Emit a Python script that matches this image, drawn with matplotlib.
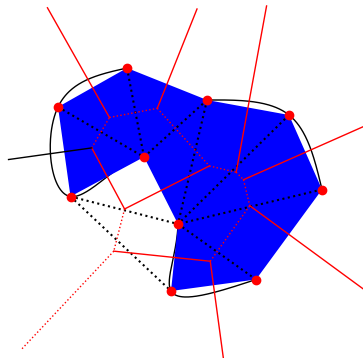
import numpy as np
import matplotlib
matplotlib.use("Agg")
import matplotlib.pyplot as plt
from matplotlib.patches import Polygon

# Sites (screen-like coordinates, y grows downward)
site_x = [127, 58, 144, 207, 289, 322, 70.5, 178, 256, 171]
site_y = [68, 107, 157, 100, 115, 189.5, 196.5, 224, 279.5, 291]

# Order in which the sites form the filled polygon
polygon_order = [1, 0, 3, 4, 5, 8, 9, 7, 2, 6]

# Site chains threaded by the smooth black curves
curve_chains = [[0, 1, 6, 2, 7, 9, 8], [3, 4, 5]]

# Triangulation of the sites
triangles = [
    (1, 2, 6), (2, 6, 7), (6, 7, 9), (7, 8, 9), (0, 1, 2),
    (0, 2, 3), (2, 3, 7), (3, 4, 7), (4, 5, 7), (5, 7, 8),
]

# Unbounded Voronoi edges: boundary edge -> (length of the drawn ray, colour)
ray_specs = {
    (0, 1): (126, "red"),
    (1, 6): (84, "black"),
    (6, 9): (136, "red"),
    (8, 9): (400, "red"),
    (5, 8): (400, "red"),
    (4, 5): (400, "red"),
    (3, 4): (169, "red"),
    (0, 3): (107, "red"),
}

pts = np.column_stack([site_x, site_y]).astype(float)
n = len(pts)


def circumcenter(a, b, c):
    d = 2 * (a[0] * (b[1] - c[1]) + b[0] * (c[1] - a[1]) + c[0] * (a[1] - b[1]))
    sa, sb, sc = a @ a, b @ b, c @ c
    ux = (sa * (b[1] - c[1]) + sb * (c[1] - a[1]) + sc * (a[1] - b[1])) / d
    uy = (sa * (c[0] - b[0]) + sb * (a[0] - c[0]) + sc * (b[0] - a[0])) / d
    return np.array([ux, uy])


def natural_spline(p, samples=80):
    """Interpolating natural cubic spline, chord-length parameter."""
    m = len(p)
    h = np.hypot(*np.diff(p, axis=0).T)
    A = np.zeros((m, m))
    rhs = np.zeros((m, 2))
    A[0, 0] = A[-1, -1] = 1
    for i in range(1, m - 1):
        A[i, i - 1] = h[i - 1]
        A[i, i] = 2 * (h[i - 1] + h[i])
        A[i, i + 1] = h[i]
        rhs[i] = 6 * ((p[i + 1] - p[i]) / h[i] - (p[i] - p[i - 1]) / h[i - 1])
    M = np.linalg.solve(A, rhs)
    out = []
    for i in range(m - 1):
        hi = h[i]
        s = np.linspace(0, hi, samples, endpoint=False)[:, None]
        y0, y1 = p[i], p[i + 1]
        m0, m1 = M[i], M[i + 1]
        out.append(m0 * (hi - s) ** 3 / (6 * hi) + m1 * s ** 3 / (6 * hi)
                   + (y0 / hi - m0 * hi / 6) * (hi - s) + (y1 / hi - m1 * hi / 6) * s)
    out.append(p[-1:])
    return np.vstack(out)


centers = [circumcenter(*pts[list(t)]) for t in triangles]

edge_tris = {}
for t, (i, j, k) in enumerate(triangles):
    for e in ((i, j), (j, k), (i, k)):
        edge_tris.setdefault(tuple(sorted(e)), []).append((t, ({i, j, k} - set(e)).pop()))

poly_edges = {tuple(sorted((polygon_order[m], polygon_order[(m + 1) % n]))) for m in range(n)}

fig = plt.figure(figsize=(3.63, 3.58), dpi=100)
ax = fig.add_axes([0, 0, 1, 1])
ax.set_xlim(0, 363)
ax.set_ylim(358, 0)
ax.axis("off")

# Smooth curves through the site chains (under the fill)
for chain in curve_chains:
    c = natural_spline(pts[chain])
    ax.plot(c[:, 0], c[:, 1], color="black", lw=1.0, zorder=1)

# Filled polygon
ax.add_patch(Polygon(pts[polygon_order], closed=True, facecolor="blue",
                     edgecolor="none", zorder=2))

# Triangulation edges that are not polygon sides
for (i, j) in edge_tris:
    if (i, j) in poly_edges:
        continue
    ax.plot(pts[[i, j], 0], pts[[i, j], 1], color="black", ls=":", lw=1.5, zorder=3)

# Voronoi edges, dual to the triangulation edges
for (i, j), adj in edge_tris.items():
    style = "-" if (i, j) in poly_edges else ":"
    if len(adj) == 2:
        a, b = centers[adj[0][0]], centers[adj[1][0]]
        ax.plot([a[0], b[0]], [a[1], b[1]], color="red", ls=style, lw=1.0, zorder=4)
    else:
        t, opp = adj[0]
        c = centers[t]
        e = pts[j] - pts[i]
        nrm = np.array([-e[1], e[0]]) / np.hypot(*e)
        if nrm @ (pts[opp] - pts[i]) > 0:
            nrm = -nrm
        length, colour = ray_specs[(i, j)]
        end = c + nrm * length
        ax.plot([c[0], end[0]], [c[1], end[1]], color=colour, ls=style, lw=1.0, zorder=4)

# Sites
ax.plot(pts[:, 0], pts[:, 1], "o", color="red", ms=6, zorder=5)

fig.savefig("out.png", dpi=100)
